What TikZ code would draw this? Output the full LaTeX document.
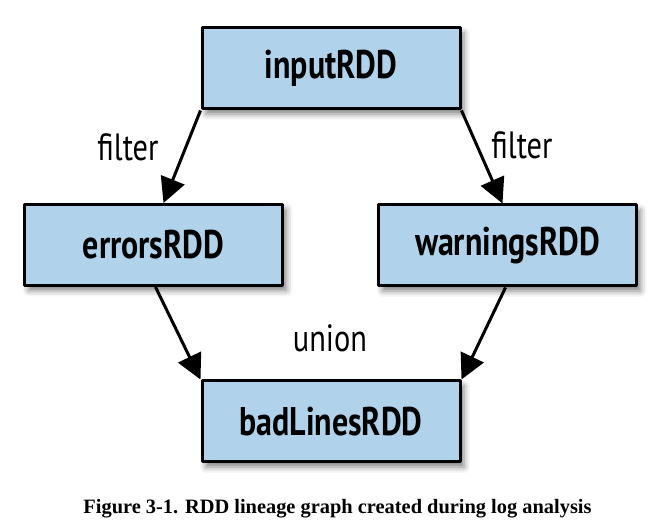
\documentclass[tikz,border=0pt]{standalone}
\usepackage{fontspec}
\setmainfont{Liberation Serif}
\newfontfamily\boxfont[FakeStretch=0.8]{PT Sans}
\usetikzlibrary{arrows.meta}
\usetikzlibrary{shadows.blur}
\definecolor{rddblue}{RGB}{176,211,235}
\tikzset{
  rddbox/.style={draw=black,line width=3pt,fill=rddblue,minimum width=258pt,minimum height=81pt,
    blur shadow={shadow xshift=4pt,shadow yshift=-5pt,shadow blur radius=6pt,shadow opacity=50},
    font=\boxfont\bfseries\fontsize{40}{44}\selectfont},
  oplabel/.style={font=\boxfont\fontsize{38}{42}\selectfont}
}
\begin{document}
\begin{tikzpicture}[line cap=round,line join=round,>={Triangle[length=25pt,width=25pt]},x=1pt,y=1pt]
      \useasboundingbox (0,0) rectangle (659,530);
      \node[rddbox] (input) at (331,461.5) {inputRDD};
      \node[rddbox] (errors) at (153.5,285) {errorsRDD};
      \node[rddbox] (warnings) at (507.5,284.5) {warningsRDD};
      \node[rddbox] (badlines) at (331,108.5) {badLinesRDD};
      \draw[->,line width=3pt,line cap=butt] (input.south west) -- ([xshift=10pt]errors.north);
      \draw[->,line width=3pt,line cap=butt] (input.south east) -- ([xshift=-5pt]warnings.north);
      \draw[->,line width=3pt,line cap=butt] ([xshift=2pt]errors.south) -- (badlines.north west);
      \draw[->,line width=3pt,line cap=butt] ([xshift=-2pt]warnings.south) -- (badlines.north east);
      \node[oplabel] (filterl) at (128,383) {filter};
      \node[oplabel] (filterr) at (522,385) {filter};
      \node[oplabel] (union) at (330,192) {union};
      \node[font=\bfseries\fontsize{20.4}{24}\selectfont,anchor=base] (caption) at (337.5,16) {Figure 3-1. RDD lineage graph created during log analysis};
\end{tikzpicture}
\end{document}
